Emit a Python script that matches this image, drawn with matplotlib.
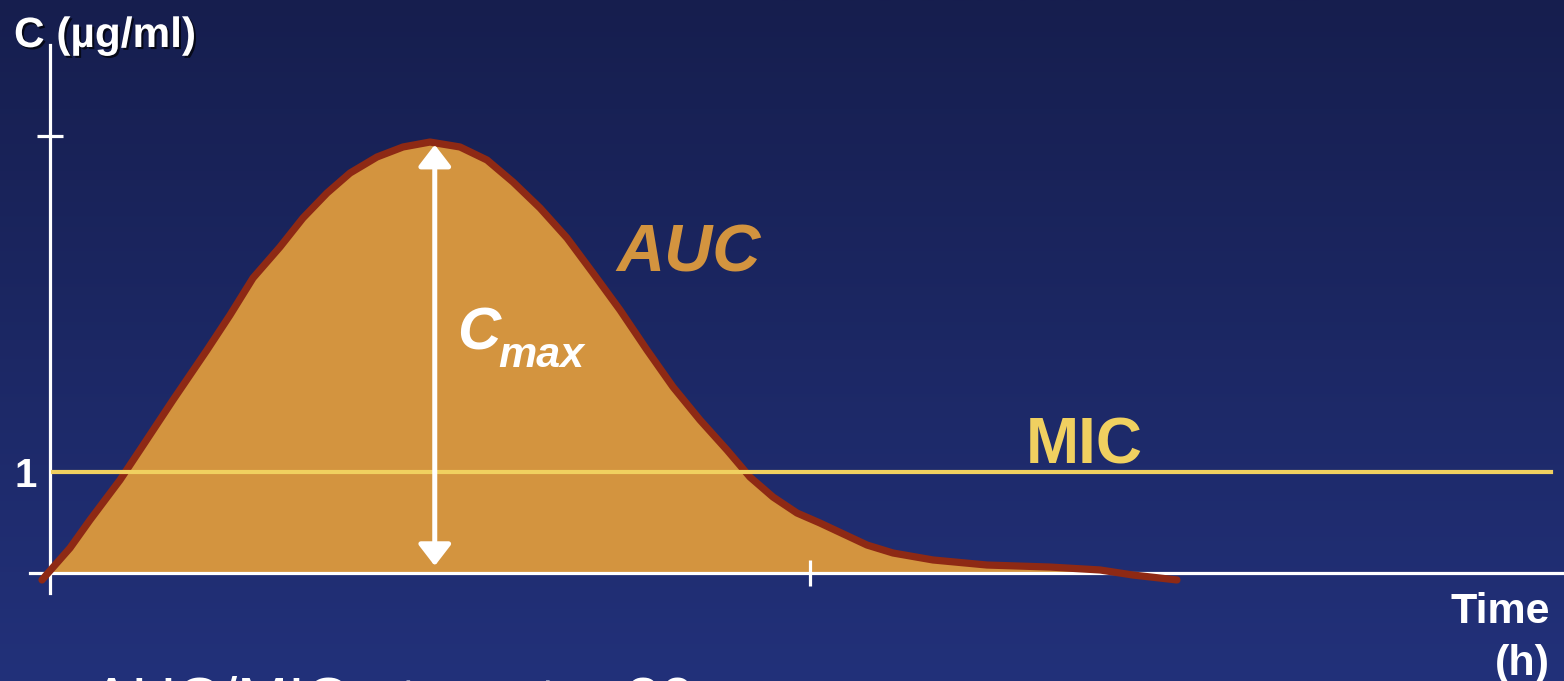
import numpy as np
import matplotlib
matplotlib.use("Agg")
import matplotlib.pyplot as plt
import matplotlib.patheffects as pe
from matplotlib.patches import FancyArrowPatch, ArrowStyle

# ---- data (time in h, concentration in MIC units) ----
time_h = [-0.084, -0.021, 0.211, 0.421, 0.737, 0.947, 1.295, 1.653, 1.895, 2.137,
          2.421, 2.663, 2.916, 3.158, 3.442, 3.716, 4.000, 4.316, 4.600, 4.874,
          5.158, 5.442, 5.716, 6.000, 6.284, 6.558, 6.842, 7.126, 7.368, 7.611,
          7.863, 8.105, 8.600, 8.874, 9.295, 9.863, 10.526, 11.053, 11.400, 11.863]
conc = [-0.069, 0.000, 0.248, 0.525, 0.921, 1.218, 1.713, 2.208, 2.554, 2.921,
        3.228, 3.515, 3.762, 3.960, 4.119, 4.218, 4.267, 4.218, 4.089, 3.871,
        3.614, 3.317, 2.970, 2.604, 2.208, 1.842, 1.515, 1.218, 0.950, 0.752,
        0.594, 0.495, 0.277, 0.198, 0.129, 0.079, 0.059, 0.030, -0.020, -0.069]
mic = 1.0
cmax_tick = 4.33
t_max = 4.05
x_tick = 8.0
y_minor_ticks = [1]
y_minor_labels = ["1"]

W, H = 1564, 681
fig = plt.figure(figsize=(W / 100, H / 100), dpi=100)
ax = fig.add_axes([0, 0, 1, 1])
xlim = (-50 / 95, (W - 50) / 95)
ylim = (-(H - 573) / 101, 573 / 101)

# background gradient
top = np.array([22, 30, 78]) / 255
bot = np.array([34, 49, 122]) / 255
g = np.linspace(0, 1, 256)[:, None]
grad = (top[None, :] * (1 - g) + bot[None, :] * g)[:, None, :]
ax.imshow(grad, extent=[xlim[0], xlim[1], ylim[0], ylim[1]], aspect="auto",
          zorder=0, origin="upper")

t = np.array(time_h)
c = np.array(conc)
ax.fill_between(t, 0, np.maximum(c, 0), color="#D3943F", lw=0, zorder=1)
ax.plot(t, c, color="#8E2914", lw=5.2, solid_capstyle="round",
        solid_joinstyle="round", zorder=3)
ax.axhline(mic, xmin=(0.03 - xlim[0]) / (xlim[1] - xlim[0]),
           xmax=(15.8 - xlim[0]) / (xlim[1] - xlim[0]),
           color="#F0D060", lw=3, zorder=3.5)

# axes (spines through origin)
for s in ["top", "right"]:
    ax.spines[s].set_visible(False)
for s in ["left", "bottom"]:
    ax.spines[s].set_position(("data", 0))
    ax.spines[s].set_color("white")
    ax.spines[s].set_linewidth(2.3)
    ax.spines[s].set_zorder(2.5)
ax.spines["left"].set_bounds(-0.2, 5.23)
ax.spines["bottom"].set_bounds(-0.21, xlim[1])
ax.set_xticks([x_tick])
ax.set_xticklabels([""])
ax.set_yticks([cmax_tick])
ax.set_yticklabels([""])
ax.set_yticks(y_minor_ticks, minor=True)
ax.set_yticklabels([], minor=True)
ax.tick_params(axis="both", which="major", direction="inout", length=19,
               width=2.3, color="white")
ax.tick_params(axis="y", which="minor", length=0)
ax.set_xlim(xlim)
ax.set_ylim(ylim)

# Cmax arrow
arr = FancyArrowPatch((t_max, 0.07), (t_max, 4.24),
                      arrowstyle=ArrowStyle("<|-|>", head_length=0.65, head_width=0.5),
                      mutation_scale=20, color="white", lw=3.6, shrinkA=0, shrinkB=0,
                      zorder=4)
ax.add_patch(arr)

F = "Liberation Sans"
shadow = [pe.withSimplePatchShadow(offset=(1.5, -1.5), shadow_rgbFace="black", alpha=0.7)]
ax.text(-0.379, 5.208, "C (µg/ml)", color="white", fontsize=30.5, fontweight="bold",
        family=F, ha="left", va="baseline", zorder=5, path_effects=shadow)
ax.text(-0.137, 0.851, y_minor_labels[0], color="white", fontsize=29, fontweight="bold",
        family=F, ha="right", va="baseline", zorder=5)
ax.text(5.958, 2.99, "AUC", color="#D3943F", fontsize=48, fontweight="bold",
        fontstyle="italic", family=F, ha="left", va="baseline", zorder=5)
ax.text(10.274, 1.089, "MIC", color="#F0D060", fontsize=46, fontweight="bold",
        family=F, ha="left", va="baseline", zorder=5)
ax.text(4.284, 2.208, "C", color="white", fontsize=43, fontweight="bold",
        fontstyle="italic", family=F, ha="left", va="baseline", zorder=5)
ax.text(4.716, 2.04, "max", color="white", fontsize=31, fontweight="bold",
        fontstyle="italic", family=F, ha="left", va="baseline", zorder=5)
ax.text(15.79, -0.495, "Time", color="white", fontsize=31, fontweight="bold",
        family=F, ha="right", va="baseline", zorder=5)
ax.text(15.79, -1.01, "(h)", color="white", fontsize=31, fontweight="bold",
        family=F, ha="right", va="baseline", zorder=5, clip_on=False)
ax.text(0.432, -1.455, "AUC/MIC : target > 30", color="white", fontsize=44,
        family=F, ha="left", va="baseline", zorder=5, clip_on=False)

fig.savefig("out.png", dpi=100)
